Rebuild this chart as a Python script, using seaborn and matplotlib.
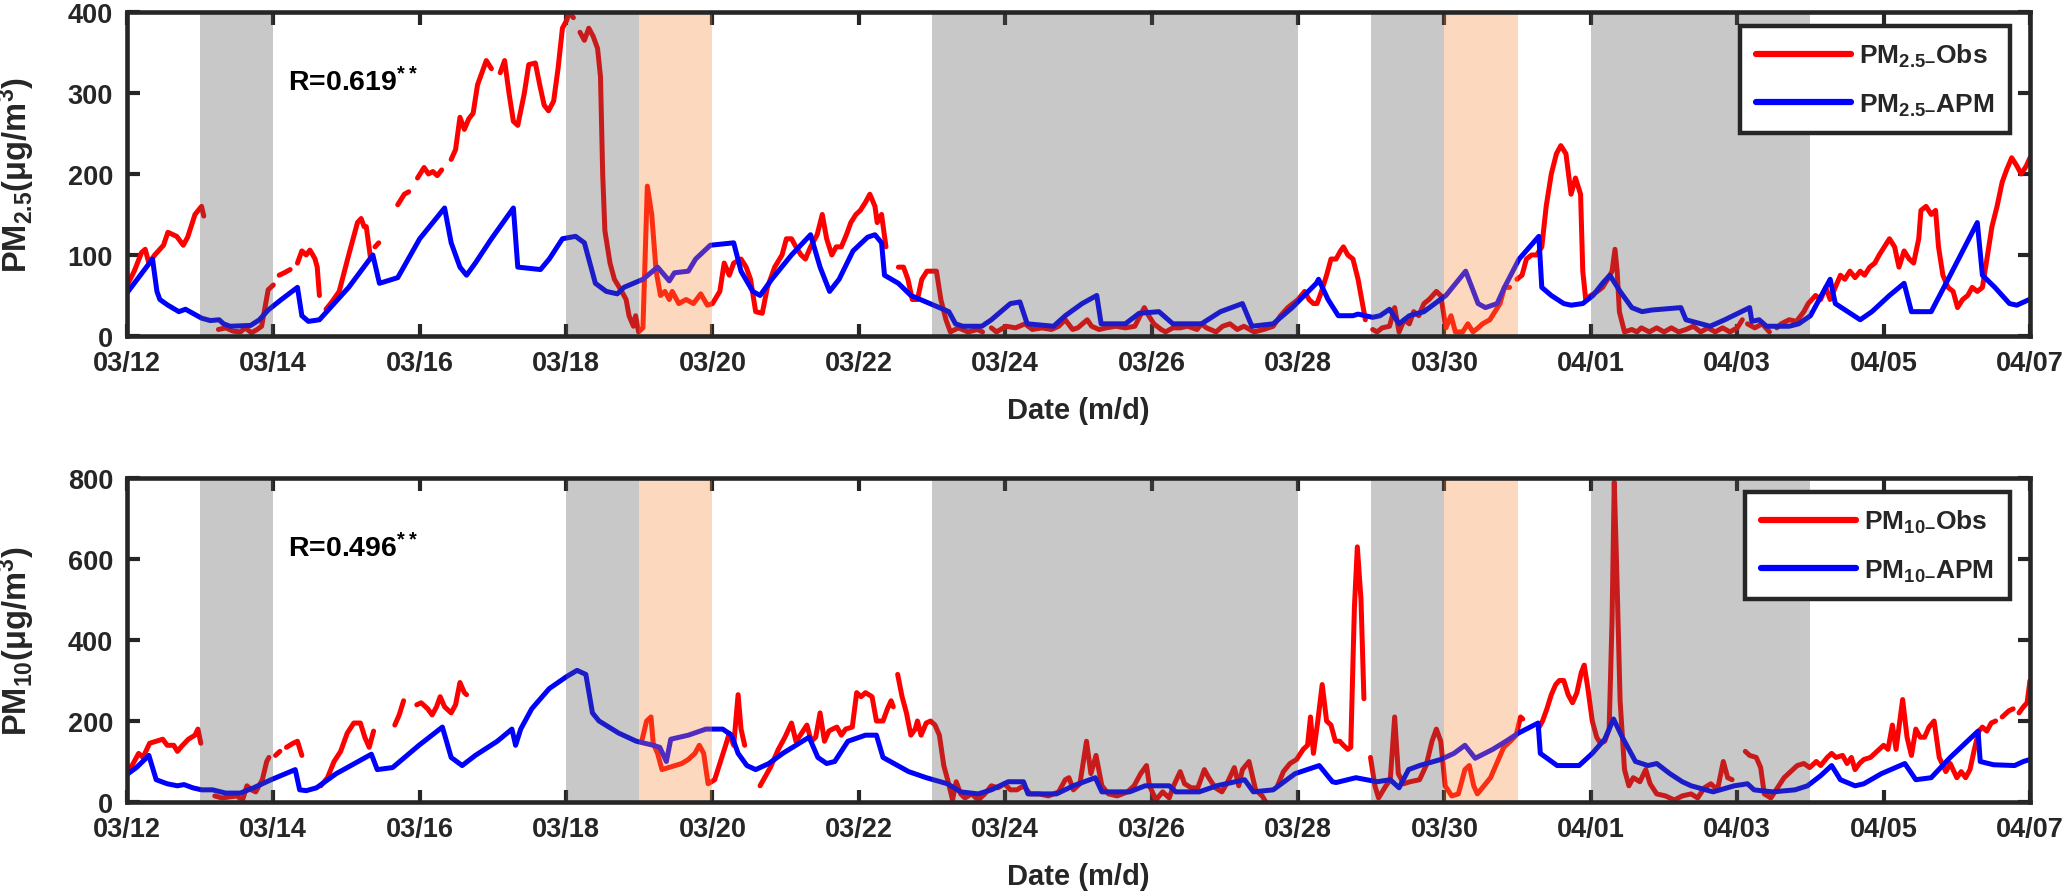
import numpy as np
import pandas as pd
import matplotlib
matplotlib.use("Agg")
import matplotlib.pyplot as plt
from matplotlib.lines import Line2D
import seaborn as sns

nan = np.nan

# x axis: days since 03/12 00:00, tick every 2 days
tick_labels = ["03/12", "03/14", "03/16", "03/18", "03/20", "03/22", "03/24",
               "03/26", "03/28", "03/30", "04/01", "04/03", "04/05", "04/07"]
gray_spans = [(1, 2), (6, 7), (11, 16), (17, 18), (20, 23)]
orange_spans = [(7, 8), (18, 19)]
r_texts = ["R=0.619$^{**}$", "R=0.496$^{**}$"]

# (day, value) pairs, nan = data gap
pm25_obs = [
    (0, 62), (0.1, 80), (0.2, 103), (0.25, 107), (0.3, 90), (0.38, 100), (0.5, 112), (0.56, 128),
    (0.68, 123), (0.77, 112), (0.83, 122), (0.93, 150), (1.02, 160), (1.05, 148), (1.15, nan),
    (1.25, 8), (1.35, 10), (1.45, 6), (1.55, 5), (1.62, 10), (1.7, 4), (1.78, 8), (1.84, 12),
    (1.93, 57), (2.0, 63), (2.04, nan), (2.08, 75), (2.15, 78), (2.23, 82), (2.27, nan),
    (2.33, 90), (2.39, 105), (2.45, 100), (2.5, 106), (2.54, 100), (2.57, 95), (2.6, 85), (2.63, 50),
    (2.68, nan), (2.72, 33), (2.8, 42), (2.9, 55), (3.03, 100), (3.15, 140), (3.2, 145), (3.24, 135),
    (3.27, 135), (3.33, 95), (3.36, nan), (3.39, 110), (3.44, 115), (3.55, nan), (3.7, 162),
    (3.79, 175), (3.85, 178), (3.91, nan), (3.97, 195), (4.06, 208), (4.12, 200), (4.18, 203),
    (4.24, 198), (4.3, 205), (4.37, nan), (4.43, 218), (4.49, 230), (4.55, 270), (4.61, 255),
    (4.67, 268), (4.73, 275), (4.79, 310), (4.91, 340), (4.98, 330), (5.04, nan), (5.1, 325),
    (5.16, 340), (5.22, 300), (5.28, 265), (5.34, 260), (5.43, 300), (5.49, 335), (5.58, 337),
    (5.64, 310), (5.7, 285), (5.76, 278), (5.83, 290), (5.89, 330), (5.95, 380), (6.01, 390),
    (6.04, 400), (6.1, 393), (6.15, nan), (6.19, 375), (6.25, 365), (6.31, 380), (6.37, 370),
    (6.43, 355), (6.47, 320), (6.5, 200), (6.53, 130), (6.6, 90), (6.66, 70), (6.76, 55), (6.82, 45),
    (6.86, 25), (6.92, 12), (6.95, 25), (6.99, 5), (7.05, 10), (7.11, 185), (7.17, 150), (7.23, 80),
    (7.29, 50), (7.35, 55), (7.41, 45), (7.45, 55), (7.54, 40), (7.64, 45), (7.74, 40), (7.84, 52),
    (7.93, 38), (8.0, 40), (8.1, 55), (8.16, 90), (8.23, 75), (8.29, 90), (8.39, 95), (8.46, 85),
    (8.52, 70), (8.59, 30), (8.68, 28), (8.75, 60), (8.85, 85), (8.95, 100), (9.01, 120), (9.08, 120),
    (9.14, 110), (9.21, 100), (9.27, 95), (9.34, 110), (9.43, 125), (9.5, 150), (9.56, 120),
    (9.63, 100), (9.69, 110), (9.76, 110), (9.83, 125), (9.89, 140), (9.96, 150), (10.02, 155),
    (10.09, 165), (10.15, 175), (10.22, 160), (10.25, 140), (10.31, 150), (10.37, 110), (10.45, nan),
    (10.54, 85), (10.61, 85), (10.67, 70), (10.73, 45), (10.8, 45), (10.86, 70), (10.93, 80),
    (10.99, 80), (11.06, 80), (11.12, 45), (11.19, 20), (11.25, 5), (11.36, 10), (11.49, 5),
    (11.62, 8), (11.69, 5), (11.75, nan), (11.81, 10), (11.88, 5), (12.01, 12), (12.14, 10),
    (12.27, 15), (12.37, 8), (12.5, 10), (12.63, 8), (12.73, 12), (12.82, 20), (12.92, 8), (12.99, 10),
    (13.12, 20), (13.18, 12), (13.28, 8), (13.38, 10), (13.51, 12), (13.64, 10), (13.77, 12),
    (13.9, 35), (13.96, 25), (14.03, 15), (14.13, 8), (14.19, 5), (14.29, 10), (14.39, 10),
    (14.49, 12), (14.62, 8), (14.68, 15), (14.75, 10), (14.88, 5), (14.97, 12), (15.07, 15),
    (15.17, 8), (15.26, 12), (15.4, 5), (15.53, 8), (15.66, 12), (15.76, 25), (15.86, 35), (16.0, 45),
    (16.09, 55), (16.15, 45), (16.21, 40), (16.26, 40), (16.32, 55), (16.39, 75), (16.45, 95),
    (16.52, 95), (16.58, 105), (16.62, 110), (16.68, 100), (16.75, 95), (16.82, 70), (16.88, 40),
    (16.92, 20), (16.97, nan), (17.02, 8), (17.08, 5), (17.15, 10), (17.25, 12), (17.32, 35),
    (17.38, 5), (17.45, 20), (17.52, 15), (17.58, 30), (17.65, 25), (17.72, 40), (17.79, 45),
    (17.89, 55), (17.95, 50), (18.02, 10), (18.09, 25), (18.15, 5), (18.25, 5), (18.32, 15),
    (18.39, 5), (18.46, 10), (18.52, 15), (18.62, 20), (18.69, 30), (18.76, 40), (18.82, 60),
    (18.89, 60), (18.94, nan), (18.99, 70), (19.06, 75), (19.12, 95), (19.19, 100), (19.26, 100),
    (19.33, 110), (19.39, 160), (19.46, 200), (19.53, 225), (19.59, 235), (19.66, 225), (19.73, 175),
    (19.79, 195), (19.86, 175), (19.89, 80), (19.93, 45), (20.0, 50), (20.09, 55), (20.16, 60),
    (20.23, 70), (20.29, 80), (20.33, 107), (20.36, 80), (20.39, 30), (20.46, 5), (20.56, 8),
    (20.63, 5), (20.69, 10), (20.8, 5), (20.9, 10), (21.0, 5), (21.1, 10), (21.2, 5), (21.3, 8),
    (21.4, 12), (21.5, 5), (21.6, 10), (21.7, 5), (21.8, 10), (21.9, 5), (22.0, 10), (22.07, 20),
    (22.1, nan), (22.14, 15), (22.24, 10), (22.34, 15), (22.44, 5), (22.49, nan), (22.54, 10),
    (22.6, 15), (22.71, 20), (22.81, 18), (22.91, 30), (22.97, 40), (23.07, 50), (23.14, 45),
    (23.21, 60), (23.27, 45), (23.34, 60), (23.41, 75), (23.47, 70), (23.54, 80), (23.61, 72),
    (23.68, 80), (23.74, 75), (23.81, 85), (23.88, 90), (23.94, 100), (24.01, 110), (24.08, 120),
    (24.15, 110), (24.21, 85), (24.28, 105), (24.35, 95), (24.41, 90), (24.48, 120), (24.51, 155),
    (24.58, 160), (24.65, 150), (24.71, 155), (24.75, 110), (24.81, 75), (24.88, 60), (24.95, 55),
    (25.01, 35), (25.08, 45), (25.15, 50), (25.21, 60), (25.28, 55), (25.35, 60), (25.42, 100),
    (25.48, 135), (25.55, 160), (25.62, 190), (25.68, 205), (25.75, 220), (25.82, 210), (25.88, 200),
    (25.95, 210), (26.0, 220),
]

pm25_apm = [
    (0, 53), (0.35, 95), (0.41, 55), (0.45, 45), (0.56, 38), (0.71, 30), (0.8, 33), (0.9, 28),
    (1.02, 22), (1.14, 19), (1.26, 20), (1.32, 15), (1.41, 12), (1.69, 13), (1.81, 20), (1.93, 32),
    (2.11, 45), (2.33, 60), (2.39, 25), (2.48, 18), (2.63, 20), (2.78, 35), (3.03, 60), (3.36, 100),
    (3.45, 65), (3.7, 72), (4.0, 120), (4.34, 158), (4.43, 115), (4.55, 85), (4.64, 75), (4.76, 90),
    (4.98, 120), (5.28, 158), (5.34, 85), (5.65, 82), (5.77, 95), (5.95, 120), (6.13, 123),
    (6.25, 115), (6.4, 65), (6.55, 55), (6.7, 52), (6.79, 60), (7.05, 70), (7.25, 85), (7.41, 68),
    (7.48, 78), (7.67, 80), (7.77, 95), (7.97, 112), (8.29, 115), (8.39, 80), (8.55, 55), (8.65, 50),
    (8.81, 70), (9.08, 100), (9.34, 125), (9.47, 85), (9.6, 55), (9.73, 70), (9.92, 105),
    (10.12, 122), (10.22, 125), (10.31, 115), (10.35, 75), (10.54, 65), (10.71, 50), (10.97, 40),
    (11.23, 30), (11.32, 15), (11.42, 12), (11.68, 12), (11.81, 20), (12.07, 40), (12.2, 42),
    (12.3, 15), (12.66, 12), (12.82, 25), (13.05, 40), (13.25, 50), (13.31, 15), (13.64, 15),
    (13.83, 28), (14.1, 30), (14.29, 15), (14.68, 15), (14.94, 30), (15.24, 40), (15.37, 12),
    (15.66, 15), (15.92, 35), (16.25, 65), (16.28, 70), (16.41, 45), (16.55, 25), (16.75, 25),
    (16.82, 27), (17.02, 23), (17.12, 25), (17.25, 33), (17.38, 15), (17.52, 25), (17.72, 30),
    (18.02, 50), (18.29, 80), (18.46, 40), (18.56, 35), (18.72, 40), (18.82, 60), (19.02, 95),
    (19.29, 123), (19.33, 60), (19.46, 50), (19.63, 40), (19.73, 38), (19.89, 40), (20.03, 50),
    (20.16, 65), (20.26, 75), (20.4, 55), (20.56, 35), (20.7, 30), (20.83, 32), (21.23, 35),
    (21.3, 20), (21.63, 12), (21.83, 20), (22.17, 35), (22.2, 18), (22.3, 20), (22.4, 12),
    (22.71, 12), (22.84, 15), (23.0, 25), (23.27, 70), (23.34, 40), (23.51, 30), (23.68, 20),
    (23.84, 30), (24.08, 50), (24.28, 65), (24.38, 30), (24.65, 30), (24.91, 75), (25.28, 140),
    (25.35, 75), (25.52, 60), (25.72, 40), (25.82, 38), (25.99, 45),
]

pm10_obs = [
    (0, 78), (0.07, 90), (0.16, 120), (0.22, 110), (0.31, 145), (0.4, 150), (0.49, 155), (0.55, 140),
    (0.64, 140), (0.69, 125), (0.75, 138), (0.84, 155), (0.93, 165), (0.97, 180), (1.01, 145),
    (1.1, nan), (1.2, 15), (1.3, 10), (1.38, 12), (1.5, 15), (1.58, 5), (1.64, 40), (1.7, 30),
    (1.76, 25), (1.85, 55), (1.91, 100), (1.94, 110), (1.98, nan), (2.03, 115), (2.09, 125),
    (2.13, nan), (2.18, 135), (2.27, 145), (2.33, 150), (2.39, 115), (2.5, nan), (2.65, 40),
    (2.74, 60), (2.83, 100), (2.92, 125), (3.01, 170), (3.1, 195), (3.19, 195), (3.25, 160),
    (3.31, 135), (3.37, 175), (3.5, nan), (3.66, 190), (3.72, 215), (3.78, 250), (3.87, nan),
    (3.96, 240), (4.02, 245), (4.11, 230), (4.17, 215), (4.23, 235), (4.28, 260), (4.34, 235),
    (4.43, 220), (4.49, 240), (4.55, 295), (4.61, 270), (4.64, 265), (4.8, nan),
    (7.04, 155), (7.1, 200), (7.16, 210), (7.19, 145), (7.25, 120), (7.31, 80), (7.4, 85), (7.49, 90),
    (7.58, 95), (7.67, 105), (7.76, 120), (7.82, 140), (7.88, 120), (7.94, 45), (8.03, 55),
    (8.18, 140), (8.23, 170), (8.29, 140), (8.35, 265), (8.39, 180), (8.44, 140), (8.55, nan),
    (8.65, 40), (8.79, 85), (8.9, 130), (8.99, 160), (9.08, 195), (9.14, 150), (9.2, 165), (9.29, 190),
    (9.35, 150), (9.41, 160), (9.47, 220), (9.53, 150), (9.59, 175), (9.64, 180), (9.7, 185),
    (9.76, 165), (9.82, 180), (9.91, 185), (9.97, 270), (10.03, 260), (10.09, 270), (10.18, 260),
    (10.24, 200), (10.33, 200), (10.39, 230), (10.44, 250), (10.47, 235), (10.5, nan), (10.53, 315),
    (10.59, 260), (10.65, 220), (10.71, 165), (10.77, 180), (10.8, 200), (10.85, 165), (10.92, 195),
    (10.98, 200), (11.04, 190), (11.1, 165), (11.16, 90), (11.22, 50), (11.28, 5), (11.33, 50),
    (11.39, 20), (11.45, 10), (11.54, 20), (11.63, 5), (11.72, 20), (11.81, 40), (11.9, 35),
    (11.99, 45), (12.07, 30), (12.16, 30), (12.25, 40), (12.34, 20), (12.46, 20), (12.59, 15),
    (12.73, 25), (12.82, 55), (12.87, 60), (12.93, 30), (13.02, 45), (13.11, 150), (13.17, 70),
    (13.24, 115), (13.32, 40), (13.41, 20), (13.53, 15), (13.67, 25), (13.76, 40), (13.85, 70),
    (13.93, 90), (13.97, 40), (14.06, 5), (14.15, 25), (14.24, 10), (14.3, 40), (14.39, 75),
    (14.45, 45), (14.54, 35), (14.63, 35), (14.72, 80), (14.78, 60), (14.87, 35), (14.96, 25),
    (15.04, 50), (15.13, 85), (15.19, 40), (15.24, 80), (15.33, 100), (15.42, 30), (15.51, 15),
    (15.56, 0), (15.62, nan), (15.72, 40), (15.8, 75), (15.89, 95), (15.98, 105), (16.07, 130),
    (16.13, 140), (16.17, 210), (16.21, 120), (16.27, 200), (16.33, 290), (16.39, 200), (16.45, 190),
    (16.51, 150), (16.57, 150), (16.62, 140), (16.68, 130), (16.72, 135), (16.77, 480), (16.81, 630),
    (16.86, 500), (16.9, 255), (16.95, nan), (16.99, 110), (17.05, 40), (17.1, 10), (17.2, 40),
    (17.26, 55), (17.32, 210), (17.37, 70), (17.44, 45), (17.53, 50), (17.66, 55), (17.75, 90),
    (17.83, 150), (17.89, 180), (17.95, 150), (18.01, 40), (18.1, 15), (18.19, 20), (18.28, 80),
    (18.34, 90), (18.4, 40), (18.45, 20), (18.54, 40), (18.63, 60), (18.69, 85), (18.75, 110),
    (18.81, 135), (18.9, 150), (18.98, 165), (19.04, 210), (19.07, 205), (19.15, nan), (19.28, 180),
    (19.34, 200), (19.4, 230), (19.46, 265), (19.52, 290), (19.57, 300), (19.63, 300), (19.69, 265),
    (19.75, 245), (19.81, 270), (19.87, 320), (19.91, 338), (19.96, 280), (20.02, 200), (20.08, 160),
    (20.13, 145), (20.19, 150), (20.25, 180), (20.29, 450), (20.32, 790), (20.35, 600), (20.4, 250),
    (20.46, 80), (20.52, 40), (20.58, 60), (20.67, 50), (20.75, 80), (20.81, 45), (20.9, 20),
    (21.02, 15), (21.14, 5), (21.25, 15), (21.37, 20), (21.46, 10), (21.55, 35), (21.64, 45),
    (21.73, 30), (21.81, 100), (21.87, 60), (21.93, 55), (22.0, nan), (22.11, 125), (22.17, 115),
    (22.26, 110), (22.32, 85), (22.37, 20), (22.46, 10), (22.55, 35), (22.64, 60), (22.73, 75),
    (22.82, 90), (22.91, 95), (22.99, 85), (23.08, 100), (23.14, 90), (23.23, 110), (23.29, 120),
    (23.35, 110), (23.44, 115), (23.5, 95), (23.56, 110), (23.61, 80), (23.67, 95), (23.73, 105),
    (23.82, 110), (23.91, 125), (24.0, 140), (24.06, 130), (24.12, 190), (24.17, 130), (24.26, 253),
    (24.32, 160), (24.38, 115), (24.44, 180), (24.5, 160), (24.56, 160), (24.62, 185), (24.69, 200),
    (24.76, 110), (24.85, 75), (24.91, 95), (25.0, 60), (25.06, 75), (25.12, 60), (25.18, 80),
    (25.24, 130), (25.3, 175), (25.35, 185), (25.41, 175), (25.47, 195), (25.53, 200), (25.57, nan),
    (25.62, 210), (25.71, 225), (25.77, 230), (25.81, nan), (25.85, 220), (25.91, 235), (25.96, 245),
    (26.0, 300),
]

pm10_apm = [
    (0, 68), (0.13, 85), (0.3, 115), (0.4, 55), (0.55, 45), (0.69, 40), (0.78, 43), (0.9, 35),
    (1.02, 30), (1.17, 30), (1.35, 22), (1.55, 22), (1.73, 35), (1.97, 55), (2.3, 80), (2.36, 30),
    (2.45, 28), (2.59, 35), (2.86, 70), (3.16, 100), (3.34, 118), (3.42, 80), (3.63, 85), (3.99, 140),
    (4.31, 185), (4.43, 110), (4.58, 90), (4.76, 115), (5.06, 150), (5.26, 180), (5.31, 140),
    (5.38, 180), (5.53, 230), (5.77, 280), (6.01, 310), (6.15, 325), (6.27, 315), (6.36, 220),
    (6.45, 200), (6.72, 170), (6.96, 150), (7.19, 140), (7.28, 135), (7.37, 100), (7.43, 155),
    (7.67, 165), (7.91, 180), (8.14, 180), (8.26, 165), (8.35, 120), (8.47, 90), (8.59, 80),
    (8.77, 95), (8.96, 120), (9.32, 160), (9.44, 110), (9.56, 95), (9.67, 100), (9.85, 150),
    (10.09, 165), (10.24, 165), (10.33, 110), (10.68, 75), (10.92, 60), (11.21, 45), (11.39, 25),
    (11.63, 20), (11.81, 30), (12.04, 50), (12.25, 50), (12.31, 20), (12.7, 20), (12.93, 40),
    (13.23, 60), (13.32, 25), (13.7, 25), (13.91, 40), (14.24, 40), (14.33, 25), (14.65, 25),
    (14.89, 40), (15.27, 55), (15.39, 25), (15.66, 30), (15.96, 70), (16.29, 90), (16.47, 50),
    (16.52, 48), (16.79, 60), (17.08, 50), (17.26, 55), (17.38, 35), (17.51, 80), (17.66, 90),
    (17.95, 105), (18.13, 120), (18.28, 140), (18.42, 108), (18.66, 130), (18.84, 150), (19.01, 170),
    (19.28, 195), (19.31, 120), (19.54, 90), (19.84, 90), (20.02, 120), (20.19, 155), (20.31, 205),
    (20.43, 160), (20.61, 100), (20.78, 90), (20.9, 95), (21.08, 70), (21.25, 50), (21.37, 40),
    (21.67, 25), (21.96, 40), (22.14, 45), (22.23, 30), (22.32, 28), (22.49, 25), (22.79, 30),
    (22.96, 40), (23.14, 65), (23.29, 90), (23.41, 55), (23.61, 40), (23.73, 45), (23.97, 70),
    (24.29, 95), (24.44, 55), (24.65, 60), (24.91, 110), (25.29, 175), (25.32, 100), (25.5, 92),
    (25.79, 90), (25.91, 100), (26.0, 105),
]


def to_frame(pairs):
    df = pd.DataFrame(pairs, columns=["day", "val"])
    df["seg"] = df["val"].isna().cumsum()
    return df.dropna()


sns.set_theme(style="ticks")
plt.rcParams["font.family"] = ["Liberation Sans", "DejaVu Sans"]
plt.rcParams["font.weight"] = "bold"
plt.rcParams["axes.labelweight"] = "bold"
plt.rcParams["mathtext.default"] = "bf"
plt.rcParams["mathtext.fontset"] = "custom"
plt.rcParams["mathtext.bf"] = "Liberation Sans:bold"
plt.rcParams["mathtext.rm"] = "Liberation Sans:bold"

dark = "#262626"
gray_c = (0.345, 0.345, 0.345)
orange_c = (0.96, 0.545, 0.23)

fig = plt.figure(figsize=(20.67, 8.95), dpi=100)
ax1 = fig.add_axes([0.0614, 0.6235, 0.9207, 0.362])
ax2 = fig.add_axes([0.0614, 0.1028, 0.9207, 0.362])

panels = [
    (ax1, pm25_obs, pm25_apm, 400, 100, "PM$_{2.5}$(\u03bcg/m$^{3}$)",
     ["PM$_{2.5\u2013}$Obs", "PM$_{2.5\u2013}$APM"], r_texts[0]),
    (ax2, pm10_obs, pm10_apm, 800, 200, "PM$_{10}$(\u03bcg/m$^{3}$)",
     ["PM$_{10\u2013}$Obs", "PM$_{10\u2013}$APM"], r_texts[1]),
]

for ax, obs, apm, ymax, ystep, ylab, leg_labels, rtxt in panels:
    sns.lineplot(data=to_frame(obs), x="day", y="val", units="seg", estimator=None,
                 sort=False, color="red", lw=3.6, ax=ax, zorder=2)
    sns.lineplot(data=to_frame(apm), x="day", y="val", units="seg", estimator=None,
                 sort=False, color="blue", lw=3.6, ax=ax, zorder=2)
    for a, b in gray_spans:
        ax.axvspan(a, b, color=gray_c, alpha=0.33, lw=0, zorder=3)
    for a, b in orange_spans:
        ax.axvspan(a, b, color=orange_c, alpha=0.33, lw=0, zorder=3)

    ax.set_xlim(0, 26)
    ax.set_ylim(0, ymax)
    ax.set_xticks(np.arange(0, 27, 2))
    ax.set_xticklabels(tick_labels)
    ax.set_yticks(np.arange(0, ymax + 1, ystep))
    ax.tick_params(direction="in", length=9, width=3, top=True, right=True,
                   labelsize=19.5, pad=10, colors=dark)
    for sp in ax.spines.values():
        sp.set_linewidth(3.3)
        sp.set_color(dark)
        sp.set_zorder(6)

    ax.set_xlabel("Date (m/d)", fontsize=21, color=dark, va="top")
    ax.xaxis.set_label_coords(0.5, -0.185)
    ax.set_ylabel(ylab, fontsize=23.5, color=dark)
    ax.yaxis.set_label_coords(-0.047, 0.5)

    ax.text(2.2, 0.785 * ymax, rtxt, fontsize=20.5, va="center", ha="left", color="black")

    handles = [Line2D([], [], color="red", lw=4.5), Line2D([], [], color="blue", lw=4.5)]
    leg = ax.legend(handles, leg_labels, loc="upper right", bbox_to_anchor=(0.9895, 0.957),
                    fontsize=19, frameon=True, fancybox=False, framealpha=1,
                    edgecolor=dark, handlelength=3.6, handletextpad=0.3,
                    labelspacing=0.85, borderpad=0.6, borderaxespad=0)
    leg.get_frame().set_linewidth(3.2)
    leg.set_zorder(7)

fig.savefig("out.png", dpi=100)
